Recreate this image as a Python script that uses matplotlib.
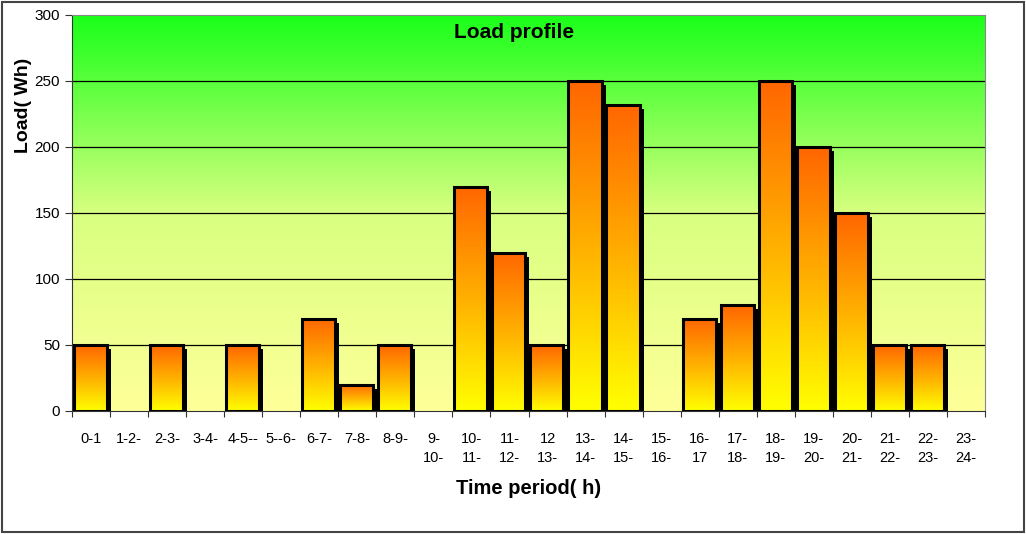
import numpy as np
import matplotlib.pyplot as plt
import matplotlib.transforms as mtransforms
from matplotlib.colors import LinearSegmentedColormap

plt.rcParams['font.family'] = ['Liberation Sans', 'DejaVu Sans']

periods = ['0-1', '1-2-', '2-3-', '3-4-', '4-5--', '5--6-', '6-7-', '7-8-', '8-9-',
           '9-\n10-', '10-\n11-', '11-\n12-', '12\n13-', '13-\n14-', '14-\n15-',
           '15-\n16-', '16-\n17', '17-\n18-', '18-\n19-', '19-\n20-', '20-\n21-',
           '21-\n22-', '22-\n23-', '23-\n24-']
load_wh = [50, 0, 50, 0, 50, 0, 70, 20, 50, 0, 170, 120, 50, 250, 232, 0,
           70, 80, 250, 200, 150, 50, 50, 0]

fig = plt.figure(figsize=(10.26, 5.34), dpi=100)
ax = fig.add_axes([72/1026, 1-411/534, (985-72)/1026, (411-15)/534])

n = len(periods)
ax.set_xlim(0, n)
ax.set_ylim(0, 300)

# background gradient (pale yellow at bottom -> green at top)
bg_cmap = LinearSegmentedColormap.from_list('bg', ['#ffff99', '#d8ff80', '#1aff1a'])
grad = np.linspace(0, 1, 256).reshape(-1, 1)
ax.imshow(grad, cmap=bg_cmap, origin='lower', aspect='auto',
          extent=[0, n, 0, 300], zorder=0)

for y in [50, 100, 150, 200, 250]:
    ax.axhline(y, color='black', lw=0.9, zorder=1)

bar_cmap = LinearSegmentedColormap.from_list('bar', ['#ffff00', '#ffb000', '#ff6600'])
shadow_tr = mtransforms.offset_copy(ax.transData, fig=fig, x=4, y=-4, units='dots')

x0 = np.arange(n) + 0.05
w = 0.87
for xi, v in zip(x0, load_wh):
    if v <= 0:
        continue
    # shadow
    ax.bar(xi, v, width=w, align='edge', color='black', transform=shadow_tr, zorder=2)
    frame = ax.bar(xi, v, width=w, align='edge', facecolor='none',
                   edgecolor='black', lw=2.2, zorder=4)[0]
    im = ax.imshow(grad, cmap=bar_cmap, origin='lower', aspect='auto',
                   extent=[xi, xi + w, 0, v], zorder=3)
    im.set_clip_path(frame)

ax.set_xlim(0, n)
ax.set_ylim(0, 300)

ax.set_xticks(np.arange(n + 1))
ax.set_xticklabels([])
ax.set_xticks(np.arange(n) + 0.5, minor=True)
ax.set_xticklabels(periods, minor=True, fontsize=10.5, va='top', linespacing=1.45)
ax.tick_params(axis='x', which='minor', length=0, pad=15)
ax.tick_params(axis='x', which='major', length=4, direction='out', color='#333333')
ax.set_yticks([0, 50, 100, 150, 200, 250, 300])
ax.tick_params(axis='y', labelsize=11, length=5, color='#333333')

for side in ['top', 'right']:
    ax.spines[side].set_color('#888888')
for side in ['left', 'bottom']:
    ax.spines[side].set_color('#333333')

ax.text(0.484, 0.955, 'Load profile', transform=ax.transAxes, ha='center', va='center',
        fontsize=15, fontweight='bold')
ax.set_ylabel('Load( Wh)', fontsize=14, fontweight='bold', va='center')
ax.yaxis.set_label_coords(-0.053, 0.773)
fig.text(529/1026, 1-489/534, 'Time period( h)', ha='center', va='center',
         fontsize=14.5, fontweight='bold')

# outer border
fig.patches.append(plt.Rectangle((0.002, 0.003), 0.996, 0.994, transform=fig.transFigure,
                                 fill=False, edgecolor='#444444', lw=1.5))

fig.savefig('out.png', dpi=100)
